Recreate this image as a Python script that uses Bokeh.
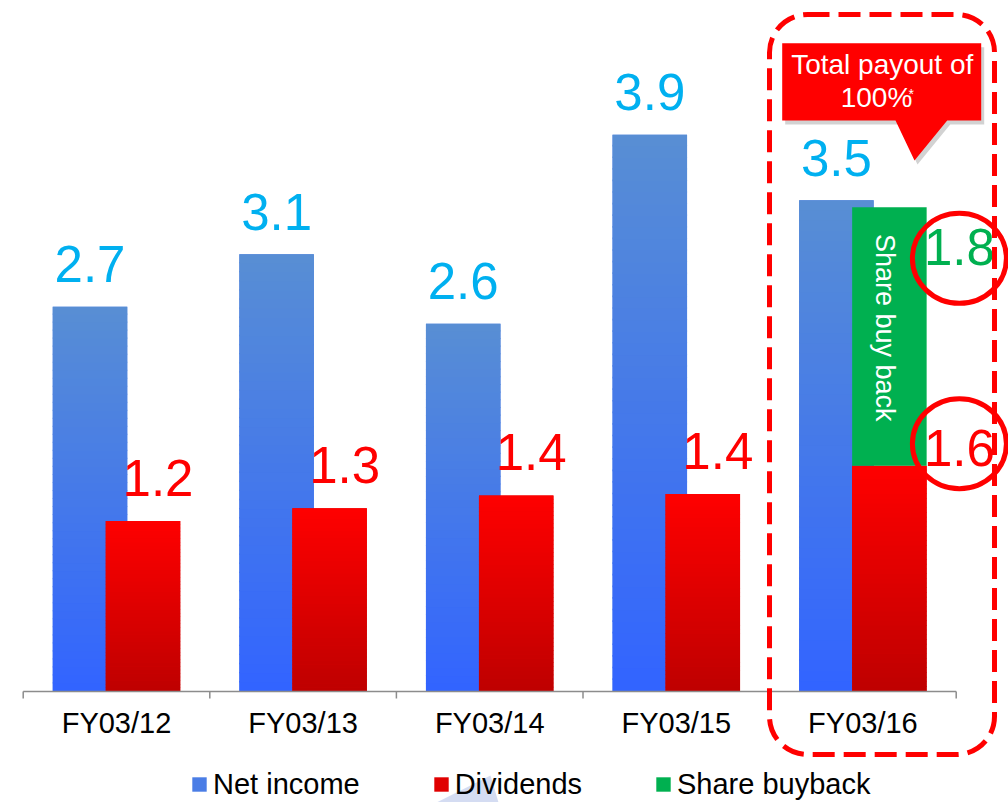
import math
from bokeh.plotting import figure
from bokeh.models import Range1d, Legend, LegendItem, BoxAnnotation
from bokeh.core.properties import value
from bokeh.embed import file_html
from bokeh.resources import INLINE

# ---------------- data ----------------
categories = ["FY03/12", "FY03/13", "FY03/14", "FY03/15", "FY03/16"]
net_income = [2.71, 3.08, 2.59, 3.92, 3.46]
dividends = [1.20, 1.29, 1.38, 1.39, 1.59]
share_buyback = [0.0, 0.0, 0.0, 0.0, 1.82]
legend_labels = ["Net income", "Dividends", "Share buyback"]
callout_lines = ["Total payout of", "100%", "*"]
buyback_bar_text = "Share buy back"

FONT_NAME = "Liberation Sans"
FONT = value(FONT_NAME)

# ---------------- layout helpers (reference pixel -> data) ----------------
W, H = 1008, 802
X0, DX = 116.0, 186.6     # centre of first category, px per category
Y0, DY = 691.0, 142.0     # baseline, px per unit


def X(px):
    return (px - X0) / DX


def Y(py):
    return (Y0 - py) / DY


def T(fs):
    # renderer places text a bit lower than the alphabetic baseline; lift it
    return 0.38 * fs / DY


p = figure(width=W, height=H,
           x_range=Range1d(X(0), X(W)), y_range=Range1d(Y(H), Y(0)),
           output_backend="svg", toolbar_location=None,
           x_axis_location=None, y_axis_location=None, min_border=0,
           outline_line_color=None, background_fill_color="white",
           border_fill_color="white")
p.grid.visible = False

n = len(categories)
idx = list(range(n))
OFF = 26.5 / DX
BW = 74.5 / DX
xb = [i - OFF for i in idx]
xr = [i + OFF for i in idx]

BLUE_TOP, BLUE_BOT = (88, 142, 212), (50, 100, 255)
RED_TOP, RED_BOT = (255, 0, 0), (190, 0, 0)
GREEN = "#00B050"
VFS = 51  # value label font size
CFS = 29  # category label font size


def gradient(xs, bottoms, tops, c_top, c_bot, nseg=48):
    gx, gb, gt, gc = [], [], [], []
    for x, lo, hi in zip(xs, bottoms, tops):
        if hi <= lo:
            continue
        for k in range(nseg):
            f0, f1 = k / nseg, (k + 1) / nseg
            fm = (k + 0.5) / nseg
            rgb = tuple(int(round(cb + (ct - cb) * fm)) for ct, cb in zip(c_top, c_bot))
            gx.append(x)
            gb.append(lo + (hi - lo) * f0)
            gt.append(min(hi, lo + (hi - lo) * f1 + (hi - lo) * 0.003))
            gc.append("#%02x%02x%02x" % rgb)
    return dict(x=gx, bottom=gb, top=gt, color=gc)


# net income bars
r_ni = p.vbar(x=xb, top=net_income, bottom=0, width=BW,
              fill_color="#4a7de6", line_color=None)
g = gradient(xb, [0] * n, net_income, BLUE_TOP, BLUE_BOT)
p.vbar(x="x", bottom="bottom", top="top", width=BW, fill_color="color",
       line_color=None, source=g)

# dividends bars
r_dv = p.vbar(x=xr, top=dividends, bottom=0, width=BW,
              fill_color="#e00000", line_color=None)
g = gradient(xr, [0] * n, dividends, RED_TOP, RED_BOT)
p.vbar(x="x", bottom="bottom", top="top", width=BW, fill_color="color",
       line_color=None, source=g)

# share buyback (stacked on dividends)
sb_i = [i for i in idx if share_buyback[i] > 0]
r_sb = p.vbar(x=[xr[i] for i in sb_i],
              bottom=[dividends[i] for i in sb_i],
              top=[dividends[i] + share_buyback[i] for i in sb_i],
              width=BW, fill_color=GREEN, line_color=None)
p.text(x=[xr[i] - 4 / DX for i in sb_i],
       y=[dividends[i] + 138 / DY for i in sb_i],
       text=[buyback_bar_text] * len(sb_i), angle=-math.pi / 2,
       text_align="center", text_baseline="middle", text_color="white",
       text_font=FONT, text_font_size="27px")

# axis line + ticks + category labels
p.segment(x0=[-0.5], x1=[n - 0.5], y0=[0], y1=[0], line_color="#8c8c8c", line_width=1.5)
tx = [i - 0.5 for i in range(n + 1)]
p.segment(x0=tx, x1=tx, y0=[0] * (n + 1), y1=[-7 / DY] * (n + 1),
          line_color="#8c8c8c", line_width=1.5)
p.text(x=idx, y=[Y(734) + T(CFS)] * n, text=categories, text_align="center",
       text_baseline="alphabetic", text_color="black", text_font=FONT,
       text_font_size=f"{CFS}px")

# value labels
p.text(x=xb, y=[v + 23 / DY + T(VFS) for v in net_income],
       text=[f"{v:.1f}" for v in net_income],
       text_align="center", text_baseline="alphabetic", text_color="#00B0F0",
       text_font=FONT, text_font_size=f"{VFS}px")
plain = [i for i in idx if share_buyback[i] == 0]
p.text(x=[xr[i] + 15 / DX for i in plain],
       y=[dividends[i] + 24 / DY + T(VFS) for i in plain],
       text=[f"{dividends[i]:.1f}" for i in plain],
       text_align="center", text_baseline="alphabetic", text_color="#FF0000",
       text_font=FONT, text_font_size=f"{VFS}px")
p.text(x=[xr[i] + 70 / DX for i in sb_i],
       y=[dividends[i] - 2 / DY + T(VFS) for i in sb_i],
       text=[f"{dividends[i]:.1f}" for i in sb_i],
       text_align="center", text_baseline="alphabetic", text_color="#FF0000",
       text_font=FONT, text_font_size=f"{VFS}px")
p.text(x=[xr[i] + 70 / DX for i in sb_i],
       y=[dividends[i] + share_buyback[i] - 59 / DY + T(VFS) for i in sb_i],
       text=[f"{share_buyback[i]:.1f}" for i in sb_i],
       text_align="center", text_baseline="alphabetic", text_color=GREEN,
       text_font=FONT, text_font_size=f"{VFS}px")

# red circles around the FY03/16 numbers
p.ellipse(x=[xr[i] + 70 / DX for i in sb_i] * 2,
          y=[dividends[i] + share_buyback[i] - 51 / DY for i in sb_i] +
            [dividends[i] + 22 / DY for i in sb_i],
          width=94, height=90, width_units="screen", height_units="screen",
          fill_color=None, line_color="#FF0000", line_width=5)

# dashed rounded frame around FY03/16
p.add_layout(BoxAnnotation(left=X(769), right=X(994), top=Y(14), bottom=Y(754),
                           fill_alpha=0, fill_color=None, line_color="#FF0000",
                           line_alpha=1.0, line_width=5, line_dash="22 9",
                           border_radius=38))

# callout box
cx = [781.7, 980.7, 980.7, 946.7, 914.0, 895.0, 781.7]
cy = [42.7, 42.7, 120.0, 120.0, 160.0, 120.0, 120.0]
p.patch([X(v + 3) for v in cx], [Y(v + 4) for v in cy], fill_color="#7f7f7f",
        fill_alpha=0.35, line_color=None)
p.patch([X(v) for v in cx], [Y(v) for v in cy], fill_color="#FF0000", line_color=None)
p.text(x=[X(881.7), X(876)], y=[Y(75) + T(28), Y(108) + T(28)], text=callout_lines[:2],
       text_align="center", text_baseline="alphabetic", text_color="white",
       text_font=FONT, text_font_size="28px")
p.text(x=[X(908)], y=[Y(99) + T(14)], text=callout_lines[2:], text_align="left",
       text_baseline="alphabetic", text_color="white", text_font=FONT,
       text_font_size="14px")

# faint blue shape behind the legend
p.patch([X(436), X(490), X(498), X(470)], [Y(802), Y(775), Y(802), Y(802)],
        fill_color="#9fb2e2", fill_alpha=0.45, line_color=None)

# legend
legend = Legend(items=[LegendItem(label=legend_labels[0], renderers=[r_ni]),
                       LegendItem(label=legend_labels[1], renderers=[r_dv]),
                       LegendItem(label=legend_labels[2], renderers=[r_sb])],
                orientation="horizontal", location=(190, 1.5),
                glyph_width=18, glyph_height=18, label_height=18,
                label_standoff=5, spacing=72, padding=0, margin=0,
                border_line_color=None, background_fill_alpha=0,
                label_text_font=FONT_NAME, label_text_font_size="29px",
                label_text_color="black", label_text_baseline="middle")
p.add_layout(legend)

open("out.html", "w").write(file_html(p, INLINE))
